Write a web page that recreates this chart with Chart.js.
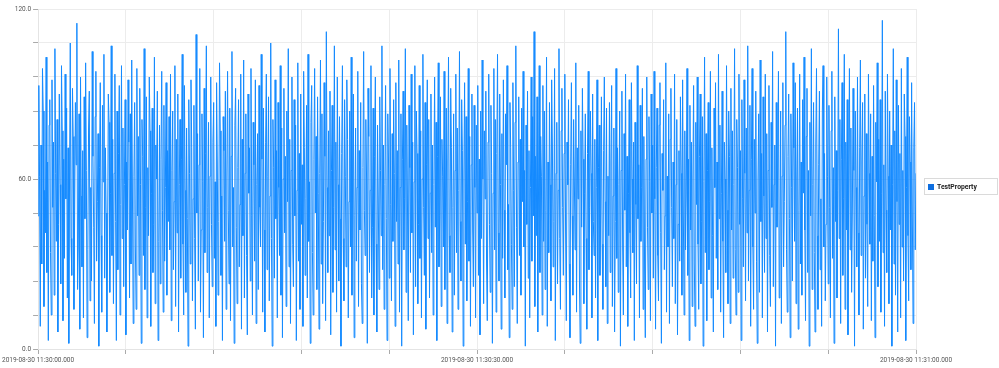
<!DOCTYPE html>
<html>
<head>
<meta charset="utf-8">
<script src="https://cdn.jsdelivr.net/npm/chart.js@4"></script>
<style>
html, body { margin: 0; padding: 0; background: #fff; }
#wrap { width: 999px; height: 368px; }
</style>
</head>
<body>
<div id="wrap"><canvas id="chart"></canvas></div>
<script>
// series sampled every 50 ms from 11:30:00.000 to 11:31:00.000
var seriesName = 'TestProperty';
var sampleStep = 0.05;
var values = [
  47, 93, 61, 8, 72, 30, 99, 84, 15, 56, 41, 103, 27, 66, 3, 79, 88, 34, 12, 95, 50, 73, 19, 106, 62, 38, 81, 6, 44, 90, 58, 23, 100, 77, 10, 67, 32, 97, 53, 85, 18, 71, 2, 60, 108, 39, 26, 92, 75, 14, 49, 87, 65, 115, 21, 36, 83, 7, 96, 54,
  29, 70, 11, 89, 46, 101, 63, 4, 35, 78, 91, 17, 57, 24, 105, 68, 43, 9, 82, 98, 31, 52, 76, 1, 64, 94, 40, 13, 86, 59, 104, 25, 71, 48, 6, 37, 90, 80, 20, 55, 107, 33, 74, 16, 62, 97, 45, 3, 84, 28, 69, 93, 12, 51, 100, 39, 78, 22, 58, 88,
  5, 66, 42, 95, 73, 18, 83, 30, 102, 54, 9, 61, 87, 36, 14, 99, 47, 75, 26, 92, 58, 2, 81, 68, 33, 106, 21, 50, 89, 11, 64, 40, 96, 77, 8, 55, 85, 27, 44, 103, 16, 72, 60, 91, 3, 38, 79, 23, 67, 98, 49, 13, 86, 31, 57, 94, 19, 70, 45, 82,
  35, 97, 10, 63, 84, 28, 52, 100, 15, 74, 41, 90, 6, 58, 81, 25, 67, 104, 37, 12, 93, 56, 20, 78, 46, 1, 88, 62, 30, 95, 71, 17, 53, 86, 39, 7, 111, 48, 76, 24, 65, 99, 13, 42, 83, 59, 4, 92, 34, 69, 107, 27, 50, 80, 11, 61, 96, 44, 22, 73,
  87, 32, 59, 8, 94, 66, 19, 45, 101, 77, 26, 54, 3, 82, 70, 38, 91, 14, 60, 98, 49, 23, 85, 10, 68, 105, 36, 57, 2, 79, 92, 43, 16, 64, 88, 29, 51, 97, 7, 74, 40, 102, 18, 62, 83, 33, 5, 90, 55, 71, 24, 99, 47, 12, 80, 65, 31, 95, 9, 58,
  76, 21, 93, 50, 36, 104, 67, 13, 85, 42, 6, 73, 97, 28, 61, 89, 17, 54, 108, 39, 1, 81, 64, 25, 95, 46, 70, 11, 87, 57, 33, 100, 19, 78, 4, 60, 92, 41, 68, 15, 84, 52, 106, 29, 74, 9, 63, 96, 37, 22, 88, 47, 79, 3, 56, 101, 31, 69, 14, 90,
  44, 65, 8, 98, 71, 26, 53, 86, 18, 104, 38, 59, 2, 80, 93, 34, 12, 67, 99, 48, 75, 21, 89, 55, 7, 62, 102, 30, 83, 16, 45, 94, 68, 10, 112, 57, 27, 77, 40, 91, 5, 63, 86, 20, 50, 107, 35, 73, 13, 96, 58, 24, 82, 46, 1, 69, 100, 39, 17, 88,
  61, 29, 95, 74, 11, 52, 84, 36, 103, 19, 66, 90, 4, 47, 78, 31, 57, 98, 15, 70, 42, 87, 23, 9, 64, 105, 49, 33, 81, 60, 2, 92, 75, 27, 56, 100, 18, 43, 85, 12, 68, 96, 37, 6, 79, 54, 21, 89, 63, 40, 107, 28, 72, 14, 58, 93, 46, 3, 83, 66,
  25, 99, 51, 17, 76, 38, 88, 62, 8, 94, 45, 70, 30, 102, 13, 57, 83, 1, 67, 91, 35, 53, 106, 20, 79, 48, 10, 86, 64, 27, 97, 41, 73, 5, 59, 100, 22, 84, 69, 16, 44, 93, 32, 77, 11, 60, 104, 50, 26, 87, 7, 65, 95, 39, 81, 18, 55, 90, 34, 72,
  12, 58, 96, 43, 80, 3, 68, 101, 29, 47, 89, 15, 74, 61, 36, 98, 21, 54, 85, 9, 66, 103, 40, 27, 92, 71, 6, 50, 83, 19, 63, 97, 34, 78, 14, 56, 105, 45, 24, 88, 70, 1, 60, 94, 37, 82, 17, 52, 99, 31, 75, 8, 65, 90, 42, 22, 86, 57, 11, 79,
  48, 93, 26, 67, 5, 84, 39, 102, 60, 16, 77, 53, 91, 30, 10, 73, 97, 44, 20, 86, 62, 2, 55, 99, 35, 81, 13, 69, 104, 41, 24, 90, 58, 7, 76, 32, 95, 49, 18, 83, 65, 100, 28, 51, 4, 87, 71, 37, 14, 94, 56, 22, 80, 107, 43, 9, 66, 89, 33, 74,
  19, 85, 52, 98, 36, 63, 1, 79, 44, 91, 25, 70, 11, 57, 96, 31, 82, 47, 112, 15, 68, 40, 89, 6, 54, 100, 27, 75, 61, 12, 93, 38, 84, 21, 49, 103, 8, 66, 34, 87, 58, 17, 95, 72, 29, 45, 99, 3, 62, 80, 23, 56, 106, 39, 14, 77, 92, 50, 26, 69,
  97, 42, 10, 73, 58, 88, 30, 4, 65, 94, 47, 19, 81, 60, 35, 101, 13, 71, 53, 86, 24, 2, 77, 43, 92, 67, 16, 55, 83, 39, 7, 69, 98, 28, 50, 84, 62, 11, 90, 45, 33, 74, 18, 57, 95, 3, 64, 79, 26, 48, 89, 37, 14, 70, 96, 52, 22, 85, 9, 61,
  40, 87, 27, 66, 93, 15, 54, 78, 6, 45, 99, 32, 71, 20, 58, 84, 1, 63, 91, 36, 12, 76, 49, 97, 29, 68, 8, 55, 88, 41, 18, 94, 60, 34, 73, 3, 80, 51, 23, 100, 46, 65, 11, 86, 38, 57, 92, 14, 75, 30, 4, 67, 96, 43, 21, 82, 59, 10, 90, 48,
  72, 25, 98, 53, 7, 64, 85, 33, 17, 79, 94, 41, 2, 69, 56, 88, 28, 47, 101, 13, 61, 36, 83, 9, 74, 92, 50, 22, 66, 39, 97, 16, 58, 81, 5, 44, 70, 31, 89, 62, 19, 95, 48, 12, 77, 35, 54, 99, 26, 67, 3, 86, 42, 73, 15, 60, 93, 30, 8, 80,
  51, 96, 37, 14, 68, 90, 23, 45, 82, 1, 59, 103, 34, 76, 10, 63, 87, 28, 52, 98, 18, 71, 40, 6, 85, 57, 94, 32, 66, 21, 104, 46, 79, 13, 55, 91, 38, 4, 73, 60, 27, 100, 49, 16, 84, 68, 9, 92, 42, 77, 25, 58, 106, 35, 12, 81, 64, 20, 97, 44,
  70, 3, 88, 53, 29, 95, 62, 17, 78, 41, 107, 24, 56, 86, 8, 67, 99, 36, 14, 74, 48, 91, 31, 2, 60, 83, 20, 102, 45, 69, 11, 89, 54, 27, 97, 39, 76, 6, 63, 93, 33, 15, 80, 50, 105, 22, 58, 72, 1, 87, 43, 66, 98, 18, 37, 84, 9, 61, 94, 29,
  52, 79, 112, 35, 13, 68, 90, 46, 4, 83, 57, 24, 101, 71, 38, 94, 16, 60, 85, 7, 49, 97, 30, 66, 19, 88, 55, 103, 42, 10, 75, 92, 27, 63, 1, 80, 47, 106, 21, 58, 87, 34, 6, 72, 99, 40, 14, 65, 91, 28, 53, 8, 84, 100, 36, 69, 17, 44, 96, 61,
  23, 86, 50, 11, 77, 98, 32, 64, 2, 89, 45, 70, 18, 56, 113, 39, 81, 9, 67, 94, 26, 53, 104, 14, 73, 42, 88, 5, 60, 99, 35, 78, 20, 48, 92, 63, 1, 84, 57, 29, 96, 41, 12, 71, 102, 33, 66, 87, 7, 54, 90, 25, 76, 44, 15, 97, 62, 37, 83, 10,
  68, 31, 93, 47, 4, 80, 59, 101, 22, 74, 38, 88, 13, 55, 116, 34, 65, 8, 91, 49, 27, 97, 61, 16, 84, 42, 72, 1, 58, 106, 30, 77, 19, 95, 52, 6, 86, 44, 69, 11, 99, 36, 63, 24, 90, 75, 3, 57, 103, 40, 17, 82, 66, 28, 94, 48, 9, 71, 87, 35,
  62
];
var xTickSeconds = [0, 30, 60];
var xTickLabels = ['2019-08-30 11:30:00.000', '2019-08-30 11:30:30.000', '2019-08-30 11:31:00.000'];
var yTickValues = [0, 60, 120];
var yTickLabels = ['0.0', '60.0', '120.0'];

var lineColor = 'rgb(20,138,255)';
var tickFont = { family: 'Roboto', size: 6.5 };

var points = values.map(function (v, i) {
  return { x: Math.round(i * sampleStep * 100) / 100, y: v };
});

// legend with a thin frame, to the right of the plot
var legendBox = {
  id: 'legendBox',
  afterDraw: function (chart) {
    var ctx = chart.ctx;
    ctx.save();
    ctx.strokeStyle = '#dadada';
    ctx.lineWidth = 1;
    ctx.strokeRect(924.5, 178.5, 73, 16);
    ctx.fillStyle = '#0f6fe0';
    ctx.fillRect(928, 184, 6, 6);
    ctx.fillStyle = '#222';
    ctx.font = 'bold 6.8px Roboto';
    ctx.textBaseline = 'middle';
    ctx.fillText(chart.data.datasets[0].label, 937, 187);
    ctx.restore();
  }
};

new Chart(document.getElementById('chart'), {
  type: 'line',
  data: {
    datasets: [{
      label: seriesName,
      data: points,
      borderColor: lineColor,
      backgroundColor: lineColor,
      borderWidth: 1,
      pointRadius: 0,
      tension: 0,
      fill: false
    }]
  },
  options: {
    responsive: true,
    maintainAspectRatio: false,
    animation: false,
    layout: { padding: { top: 9, right: 83, left: 0, bottom: 0 } },
    plugins: { legend: { display: false }, tooltip: { enabled: false } },
    scales: {
      x: {
        type: 'linear',
        min: 0,
        max: 60,
        afterFit: function (s) { s.height = 19; },
        ticks: {
          stepSize: 6,
          autoSkip: false,
          maxRotation: 0,
          padding: 2,
          color: '#555',
          font: tickFont,
          callback: function (v) {
            var k = xTickSeconds.indexOf(Math.round(v));
            return k >= 0 ? xTickLabels[k] : '';
          }
        },
        grid: { color: '#ececec', tickLength: 5, tickColor: '#aaa' },
        border: { color: '#e4e4e4' }
      },
      y: {
        min: 0,
        max: 120,
        afterFit: function (s) { s.width = 36; },
        ticks: {
          stepSize: 12,
          autoSkip: false,
          padding: 2,
          color: '#555',
          font: tickFont,
          callback: function (v) {
            var k = yTickValues.indexOf(Math.round(v));
            return k >= 0 ? yTickLabels[k] : '';
          }
        },
        grid: { color: '#ececec', tickLength: 5, tickColor: '#aaa' },
        border: { color: '#e4e4e4' }
      }
    }
  },
  plugins: [legendBox]
});
</script>
</body>
</html>
